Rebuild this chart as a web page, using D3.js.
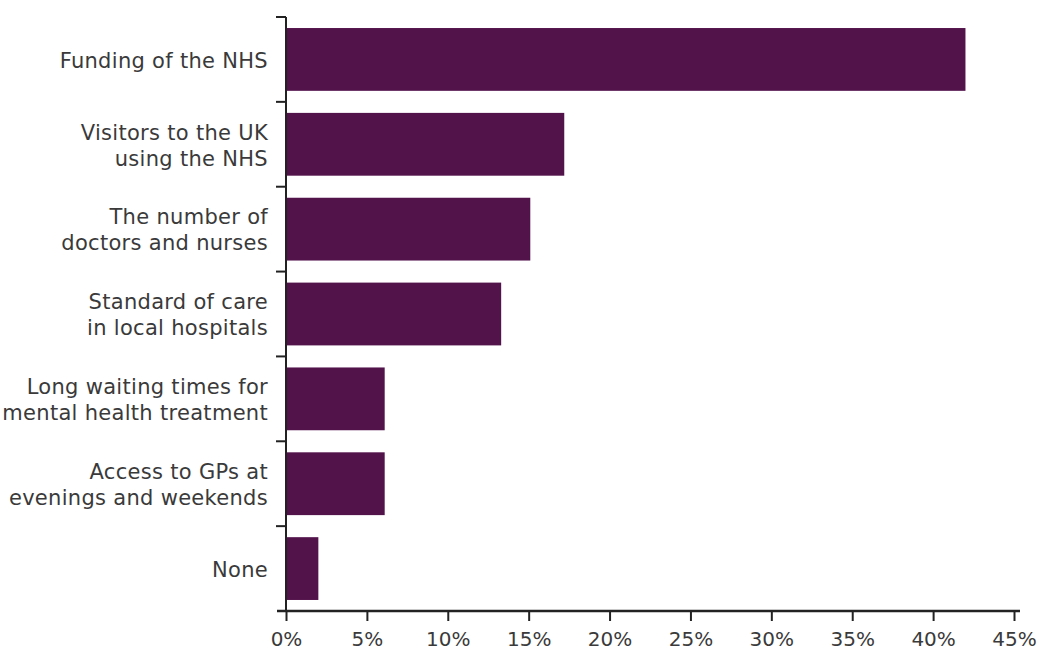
<!DOCTYPE html>
<html>
<head>
<meta charset="utf-8">
<script src="https://cdn.jsdelivr.net/npm/d3@7"></script>
<style>
  body { margin: 0; background: #fff; }
  svg text { font-family: "DejaVu Sans", "Open Sans", sans-serif; fill: #3a3a3a; }
</style>
</head>
<body>
<svg id="chart" width="1045" height="652"></svg>
<script>
// --- data ---
var categories = [
    ["Funding of the NHS"],
    ["Visitors to the UK", "using the NHS"],
    ["The number of", "doctors and nurses"],
    ["Standard of care", "in local hospitals"],
    ["Long waiting times for", "mental health treatment"],
    ["Access to GPs at", "evenings and weekends"],
    ["None"]
];
var values = [42, 17.2, 15.1, 13.3, 6.1, 6.1, 2];
var xTicks = [0, 5, 10, 15, 20, 25, 30, 35, 40, 45];

var svg = d3.select("#chart");
var plotLeft = 286, plotRight = 1014, plotTop = 17, plotBottom = 611;
var barColor = "#52124A";
var fontFamily = "'DejaVu Sans', 'Open Sans', sans-serif";

var x = d3.scaleLinear().domain([0, 45]).range([plotLeft, plotRight]);
var y = d3.scaleBand()
    .domain(d3.range(categories.length))
    .range([plotTop, plotBottom])
    .paddingInner(0.26)
    .paddingOuter(0.13);

// bars
svg.selectAll(".bar")
    .data(values).enter().append("rect")
    .attr("class", "bar")
    .attr("x", x(0) + 1)
    .attr("y", function(d, i) { return y(i); })
    .attr("width", function(d) { return x(d) - x(0) - 1; })
    .attr("height", y.bandwidth())
    .attr("fill", barColor);

// y axis: line plus ticks at band boundaries
var yEdge = d3.scaleLinear().domain([0, categories.length]).range([plotTop, plotBottom]);
var gy = svg.append("g").attr("transform", "translate(" + plotLeft + ",0)");
gy.append("line")
    .attr("y1", plotTop).attr("y2", plotBottom)
    .attr("stroke", "#222").attr("stroke-width", 2);
gy.selectAll(".ytick")
    .data(d3.range(categories.length)).enter().append("line")
    .attr("x1", -10).attr("x2", 0)
    .attr("y1", function(d) { return yEdge(d); })
    .attr("y2", function(d) { return yEdge(d); })
    .attr("stroke", "#222").attr("stroke-width", 2);

// category labels (multi-line, right aligned)
svg.selectAll(".cat")
    .data(categories).enter().append("text")
    .attr("class", "cat")
    .attr("text-anchor", "end")
    .attr("font-size", 21)
    .attr("letter-spacing", 0.3)
    .each(function(lines, i) {
        var cy = y(i) + y.bandwidth() / 2 + 1;
        var lh = 26;
        var t = d3.select(this);
        lines.forEach(function(s, j) {
            t.append("tspan")
                .attr("x", 268)
                .attr("y", cy + (j - (lines.length - 1) / 2) * lh)
                .attr("dy", "0.35em")
                .text(s);
        });
    });

// x axis
var gx = svg.append("g").attr("transform", "translate(0," + plotBottom + ")");
gx.call(d3.axisBottom(x).tickValues(xTicks).tickSize(10).tickPadding(11)
    .tickFormat(function(d) { return d + "%"; }));
gx.select(".domain").remove();
gx.append("line")
    .attr("x1", 277).attr("x2", 1020)
    .attr("stroke", "#222").attr("stroke-width", 2.5);
gx.selectAll(".tick line").attr("stroke", "#222").attr("stroke-width", 2);
gx.selectAll(".tick text")
    .attr("font-size", 20)
    .attr("font-family", fontFamily)
    .attr("fill", "#3a3a3a");
</script>
</body>
</html>
